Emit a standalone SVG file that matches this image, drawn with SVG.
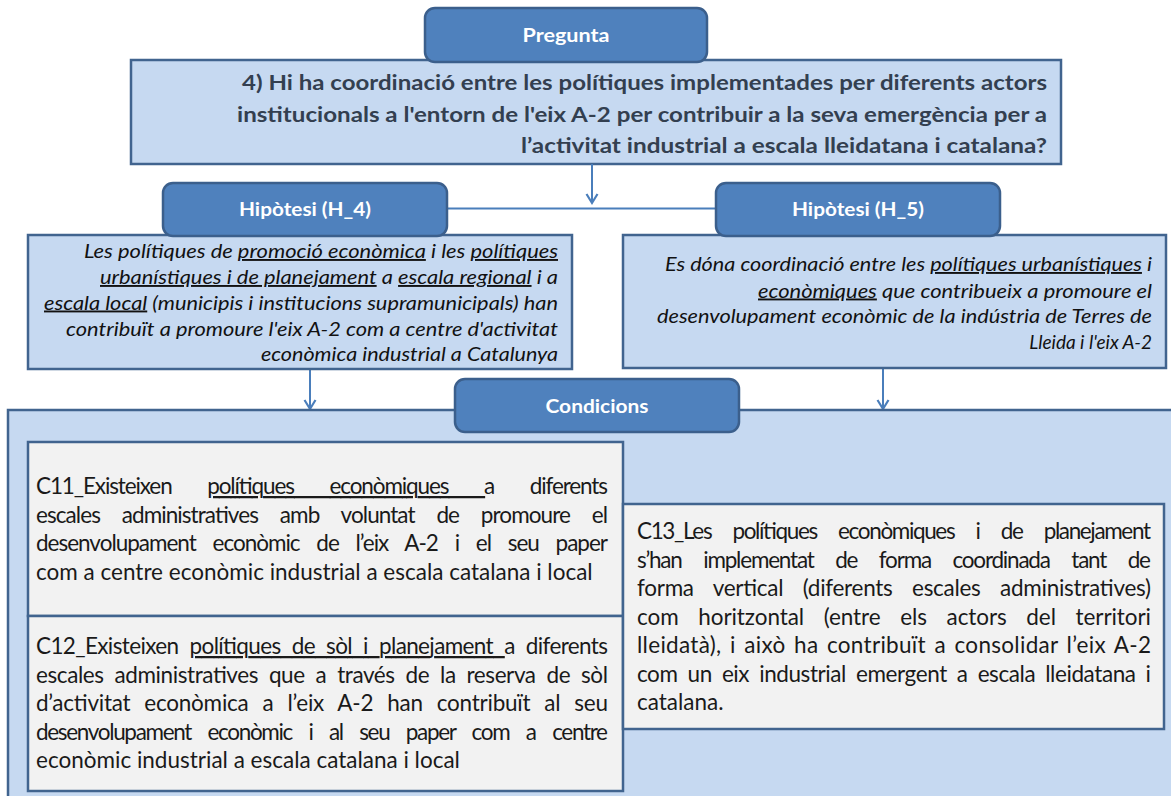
<svg xmlns="http://www.w3.org/2000/svg" width="1171" height="796" viewBox="0 0 1171 796">
<style>
.tab{fill:#4f81bd;stroke:#3b5f8c;stroke-width:2.5}
.box{fill:#c6d9f1;stroke:#41648f;stroke-width:2.5}
.cbox{fill:#f2f2f2;stroke:#41648f;stroke-width:2.5}
.tabt{font-family:Lato,"Liberation Sans",sans-serif;font-weight:bold;font-size:19px;fill:#ffffff;text-anchor:middle}
.q{font-family:Lato,"Liberation Sans",sans-serif;font-weight:bold;font-size:21px;fill:#333f50;text-anchor:end}
.h{font-family:Lato,"Liberation Sans",sans-serif;font-style:italic;font-size:19px;fill:#111111;text-anchor:end}
.c{font-family:Lato,"Liberation Sans",sans-serif;font-size:22.5px;fill:#1a1a1a}
.u{text-decoration:underline}
.con{stroke:#4a7ebb;stroke-width:2;fill:none}
</style>
<defs>
<marker id="arr" markerWidth="14" markerHeight="14" refX="11" refY="7" orient="auto" markerUnits="userSpaceOnUse" viewBox="0 0 14 14">
<path d="M2,1.5 L11,7 L2,12.5" fill="none" stroke="#4a7ebb" stroke-width="2.2"/>
</marker>
</defs>

<g id="question">
<rect class="box" x="131" y="60" width="930" height="104"/>
<text class="q" x="1047" y="90" textLength="805" lengthAdjust="spacingAndGlyphs">4) Hi ha coordinació entre les polítiques implementades per diferents actors</text>
<text class="q" x="1047" y="121.5" textLength="810" lengthAdjust="spacingAndGlyphs">institucionals a l'entorn de l'eix A-2 per contribuir a la seva emergència per a</text>
<text class="q" x="1047" y="152.5" textLength="526" lengthAdjust="spacingAndGlyphs">l’activitat industrial a escala lleidatana i catalana?</text>
</g>
<g id="pregunta-tab">
<rect class="tab" x="425" y="8" width="282" height="54" rx="10"/>
<text class="tabt" x="566" y="42" textLength="87" lengthAdjust="spacingAndGlyphs">Pregunta</text>
</g>

<g id="connectors">
<line class="con" x1="592" y1="164" x2="592" y2="203" marker-end="url(#arr)"/>
<line class="con" x1="447" y1="208.5" x2="716" y2="208.5"/>
<line class="con" x1="310" y1="369" x2="310" y2="409" marker-end="url(#arr)"/>
<line class="con" x1="883" y1="368" x2="883" y2="409" marker-end="url(#arr)"/>
</g>

<g id="h4">
<rect class="box" x="28" y="235" width="544" height="134"/>
<text class="h" x="558" y="258" textLength="474" lengthAdjust="spacingAndGlyphs">Les polítiques de <tspan class="u">promoció econòmica</tspan> i les <tspan class="u">polítiques</tspan></text>
<text class="h" x="558" y="284" textLength="458" lengthAdjust="spacingAndGlyphs"><tspan class="u">urbanístiques i de planejament</tspan> a <tspan class="u">escala regional</tspan> i a</text>
<text class="h" x="558" y="309.5" textLength="514" lengthAdjust="spacingAndGlyphs"><tspan class="u">escala local</tspan> (municipis i institucions supramunicipals) han</text>
<text class="h" x="558" y="335.5" textLength="492" lengthAdjust="spacingAndGlyphs">contribuït a promoure l'eix A-2 com a centre d'activitat</text>
<text class="h" x="558" y="361" textLength="297" lengthAdjust="spacingAndGlyphs">econòmica industrial a Catalunya</text>
</g>
<g id="h4-tab">
<rect class="tab" x="163" y="183" width="284" height="53" rx="10"/>
<text class="tabt" x="305" y="216" textLength="132" lengthAdjust="spacingAndGlyphs">Hipòtesi (H_4)</text>
</g>

<g id="h5">
<rect class="box" x="623" y="235" width="543" height="133"/>
<text class="h" x="1152" y="271" textLength="487" lengthAdjust="spacingAndGlyphs">Es dóna coordinació entre les <tspan class="u">polítiques urbanístiques</tspan> i</text>
<text class="h" x="1152" y="297.5" textLength="394" lengthAdjust="spacingAndGlyphs"><tspan class="u">econòmiques</tspan> que contribueix a promoure el</text>
<text class="h" x="1152" y="322.5" textLength="495" lengthAdjust="spacingAndGlyphs">desenvolupament econòmic de la indústria de Terres de</text>
<text class="h" x="1152" y="348.5">Lleida i l'eix A-2</text>
</g>
<g id="h5-tab">
<rect class="tab" x="716" y="183" width="284" height="53" rx="10"/>
<text class="tabt" x="858" y="216" textLength="132" lengthAdjust="spacingAndGlyphs">Hipòtesi (H_5)</text>
</g>

<g id="condicions">
<rect class="box" x="8" y="410" width="1190" height="420"/>
</g>
<g id="condicions-tab">
<rect class="tab" x="455" y="379" width="284" height="53" rx="10"/>
<text class="tabt" x="597" y="412.5" textLength="103" lengthAdjust="spacingAndGlyphs">Condicions</text>
</g>

<g id="c11">
<rect class="cbox" x="28" y="442" width="595" height="174"/>
<text class="c" x="36" y="494" textLength="572" lengthAdjust="spacing" word-spacing="31">C11_Existeixen <tspan class="u">polítiques econòmiques </tspan>a diferents</text>
<text class="c" x="36" y="522.5" textLength="572" lengthAdjust="spacing" word-spacing="17">escales administratives amb voluntat de promoure el</text>
<text class="c" x="36" y="551" textLength="572" lengthAdjust="spacing" word-spacing="12">desenvolupament econòmic de l’eix A-2 i el seu paper</text>
<text class="c" x="36" y="579.5">com a centre econòmic industrial a escala catalana i local</text>
</g>

<g id="c12">
<rect class="cbox" x="28" y="616" width="595" height="175"/>
<text class="c" x="36" y="654" textLength="572" lengthAdjust="spacing" word-spacing="6">C12_Existeixen <tspan class="u">polítiques de sòl i planejament </tspan>a diferents</text>
<text class="c" x="36" y="682.5" textLength="572" lengthAdjust="spacing" word-spacing="5.5">escales administratives que a través de la reserva de sòl</text>
<text class="c" x="36" y="711" textLength="572" lengthAdjust="spacing" word-spacing="8.5">d’activitat econòmica a l’eix A-2 han contribuït al seu</text>
<text class="c" x="36" y="739.5" textLength="572" lengthAdjust="spacing" word-spacing="12">desenvolupament econòmic i al seu paper com a centre</text>
<text class="c" x="36" y="768">econòmic industrial a escala catalana i local</text>
</g>

<g id="c13">
<rect class="cbox" x="623" y="504" width="541" height="225"/>
<text class="c" x="637" y="539" textLength="514" lengthAdjust="spacing" word-spacing="16.8">C13_Les polítiques econòmiques i de planejament</text>
<text class="c" x="637" y="567.5" textLength="514" lengthAdjust="spacing" word-spacing="17">s’han implementat de forma coordinada tant de</text>
<text class="c" x="637" y="596" textLength="514" lengthAdjust="spacing" word-spacing="14">forma vertical (diferents escales administratives)</text>
<text class="c" x="637" y="624.5" textLength="514" lengthAdjust="spacing" word-spacing="14">com horitzontal (entre els actors del territori</text>
<text class="c" x="637" y="653" textLength="514" lengthAdjust="spacing" word-spacing="2.5">lleidatà), i això ha contribuït a consolidar l’eix A-2</text>
<text class="c" x="637" y="681.5" textLength="514" lengthAdjust="spacing" word-spacing="4.7">com un eix industrial emergent a escala lleidatana i</text>
<text class="c" x="637" y="710">catalana.</text>
</g>
</svg>
